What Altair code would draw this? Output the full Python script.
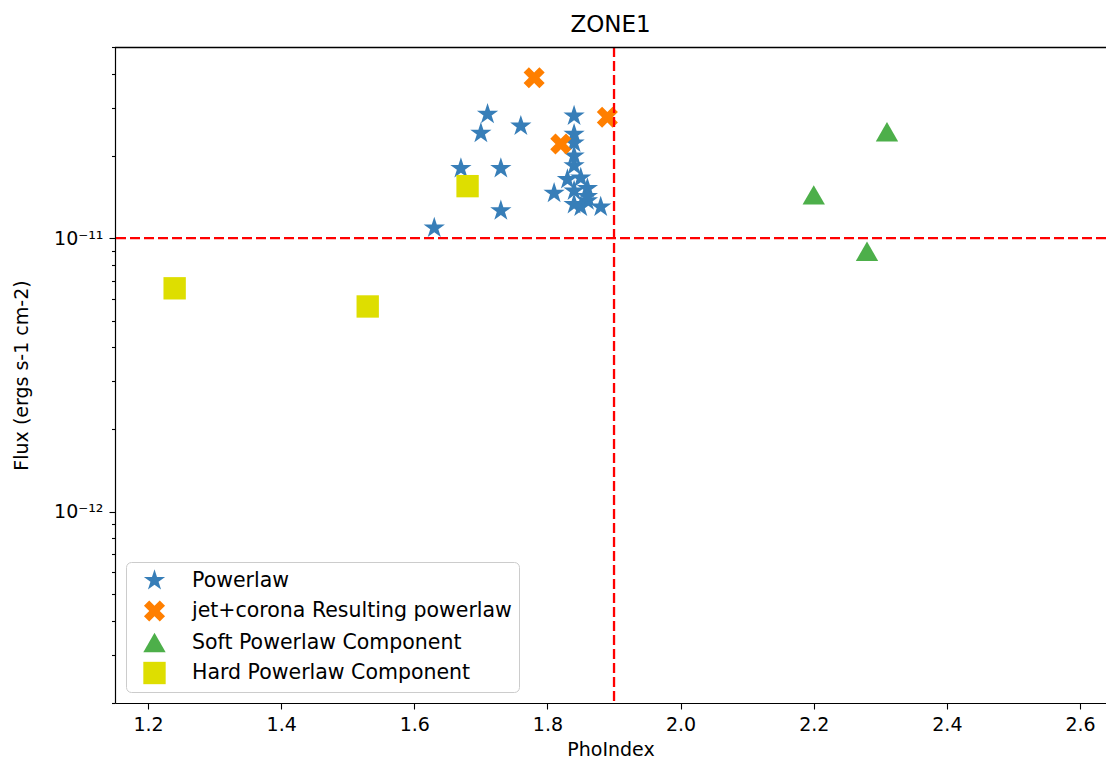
import altair as alt
import pandas as pd

# Photon index / flux measurements per model component
powerlaw_x = [1.71, 1.70, 1.76, 1.84, 1.67, 1.73, 1.73, 1.63, 1.81, 1.84, 1.84,
              1.84, 1.84, 1.83, 1.85, 1.84, 1.86, 1.84, 1.86, 1.88, 1.85, 1.86]
powerlaw_y = [2.84e-11, 2.42e-11, 2.57e-11, 2.80e-11, 1.80e-11, 1.80e-11, 1.26e-11,
              1.09e-11, 1.46e-11, 2.40e-11, 2.23e-11, 2.00e-11, 1.84e-11, 1.64e-11,
              1.66e-11, 1.49e-11, 1.52e-11, 1.33e-11, 1.37e-11, 1.30e-11, 1.30e-11,
              1.42e-11]
jet_x = [1.78, 1.89, 1.82]
jet_y = [3.86e-11, 2.77e-11, 2.21e-11]
soft_x = [2.20, 2.31, 2.28]
soft_y = [1.44e-11, 2.45e-11, 8.96e-12]
hard_x = [1.24, 1.53, 1.68]
hard_y = [6.56e-12, 5.63e-12, 1.55e-11]

series_names = ["Powerlaw", "jet+corona Resulting powerlaw",
                "Soft Powerlaw Component", "Hard Powerlaw Component"]
series_colors = ["#377eb8", "#ff7f00", "#4daf4a", "#dede00"]

# Threshold lines
phoindex_cut = [1.9]
flux_cut = [1e-11]

# Axis ticks
x_ticks = [1.2, 1.4, 1.6, 1.8, 2.0, 2.2, 2.4, 2.6]
y_ticks = [2e-13, 3e-13, 4e-13, 5e-13, 6e-13, 7e-13, 8e-13, 9e-13,
           1e-12, 2e-12, 3e-12, 4e-12, 5e-12, 6e-12, 7e-12, 8e-12, 9e-12,
           1e-11, 2e-11, 3e-11, 4e-11, 5e-11]

# Filled marker outlines (unit box -1..1)
STAR = ("M0,-1L0.2245,-0.309L0.9511,-0.309L0.3633,0.118L0.5878,0.809L0,0.382"
        "L-0.5878,0.809L-0.3633,0.118L-0.9511,-0.309L-0.2245,-0.309Z")
XFILL = ("M0.4714,-0.9428L0,-0.4714L-0.4714,-0.9428L-0.9428,-0.4714L-0.4714,0"
         "L-0.9428,0.4714L-0.4714,0.9428L0,0.4714L0.4714,0.9428L0.9428,0.4714"
         "L0.4714,0L0.9428,-0.4714Z")
series_shapes = [STAR, XFILL, "triangle-up", "square"]

frames = []
for name, xs, ys in zip(series_names,
                        [powerlaw_x, jet_x, soft_x, hard_x],
                        [powerlaw_y, jet_y, soft_y, hard_y]):
    frames.append(pd.DataFrame({"PhoIndex": xs, "Flux": ys, "series": name}))
points = pd.concat(frames, ignore_index=True)

FONT = "DejaVu Sans"
W, H = 991, 656

x_scale = alt.Scale(domain=[1.1504, 2.639], nice=False, zero=False)
y_scale = alt.Scale(type="log", domain=[2e-13, 5e-11], nice=False)

label_expr = ("datum.value > 0.99e-11 && datum.value < 1.01e-11 ? '10⁻¹¹' : "
              "(datum.value > 0.99e-12 && datum.value < 1.01e-12 ? '10⁻¹²' : '')")
is_major = ("(datum.value > 0.99e-11 && datum.value < 1.01e-11) || "
            "(datum.value > 0.99e-12 && datum.value < 1.01e-12)")

scatter = alt.Chart(points).mark_point(filled=True, opacity=1, size=500, strokeWidth=0).encode(
    x=alt.X("PhoIndex:Q", scale=x_scale, title="PhoIndex",
            axis=alt.Axis(values=x_ticks, format=".1f", grid=False)),
    y=alt.Y("Flux:Q", scale=y_scale, title="Flux (ergs s-1 cm-2)",
            axis=alt.Axis(values=y_ticks, labelExpr=label_expr, grid=False,
                          tickSize={"condition": {"test": is_major, "value": 6}, "value": 3.5})),
    color=alt.Color("series:N", scale=alt.Scale(domain=series_names, range=series_colors),
                    legend=alt.Legend(title=None, orient="none", legendX=11, legendY=515)),
    shape=alt.Shape("series:N", scale=alt.Scale(domain=series_names, range=series_shapes)),
)

vline = alt.Chart(pd.DataFrame({"PhoIndex": phoindex_cut})).mark_rule(
    color="red", strokeDash=[10, 4], strokeWidth=2.3
).encode(x=alt.X("PhoIndex:Q", scale=x_scale))

hline = alt.Chart(pd.DataFrame({"Flux": flux_cut})).mark_rule(
    color="red", strokeDash=[10, 4], strokeWidth=2.3
).encode(y=alt.Y("Flux:Q", scale=y_scale))

# Top frame edge
top_edge = alt.Chart(pd.DataFrame({"a": [0]})).mark_rule(color="black", strokeWidth=1.3).encode(
    x=alt.value(0), x2=alt.value(W), y=alt.value(0.5)
)

chart = alt.layer(scatter, vline, hline, top_edge).properties(
    width=W, height=H,
    title=alt.TitleParams("ZONE1", fontSize=23, font=FONT, fontWeight="normal",
                          anchor="middle", offset=9, color="black"),
    autosize=alt.AutoSizeParams(type="none"),
    padding={"left": 115, "top": 47, "right": 0, "bottom": 67},
).configure_view(stroke=None).configure_axis(
    labelFont=FONT, titleFont=FONT, labelFontSize=19, titleFontSize=19,
    titleFontWeight="normal", labelColor="black", titleColor="black",
    domainColor="black", domainWidth=1.2, tickColor="black", tickWidth=1.1,
    labelPadding=6,
).configure_axisX(tickSize=6, titlePadding=6).configure_axisY(titlePadding=22).configure_legend(
    labelFont=FONT, labelFontSize=20.5, labelColor="black", symbolSize=500,
    symbolStrokeWidth=0, fillColor="white", strokeColor="#cccccc", cornerRadius=5,
    padding=7, rowPadding=8.5, labelOffset=26, symbolOffset=10, labelLimit=500,
)

chart.save("out.html", embed_options={"renderer": "svg", "actions": False})
